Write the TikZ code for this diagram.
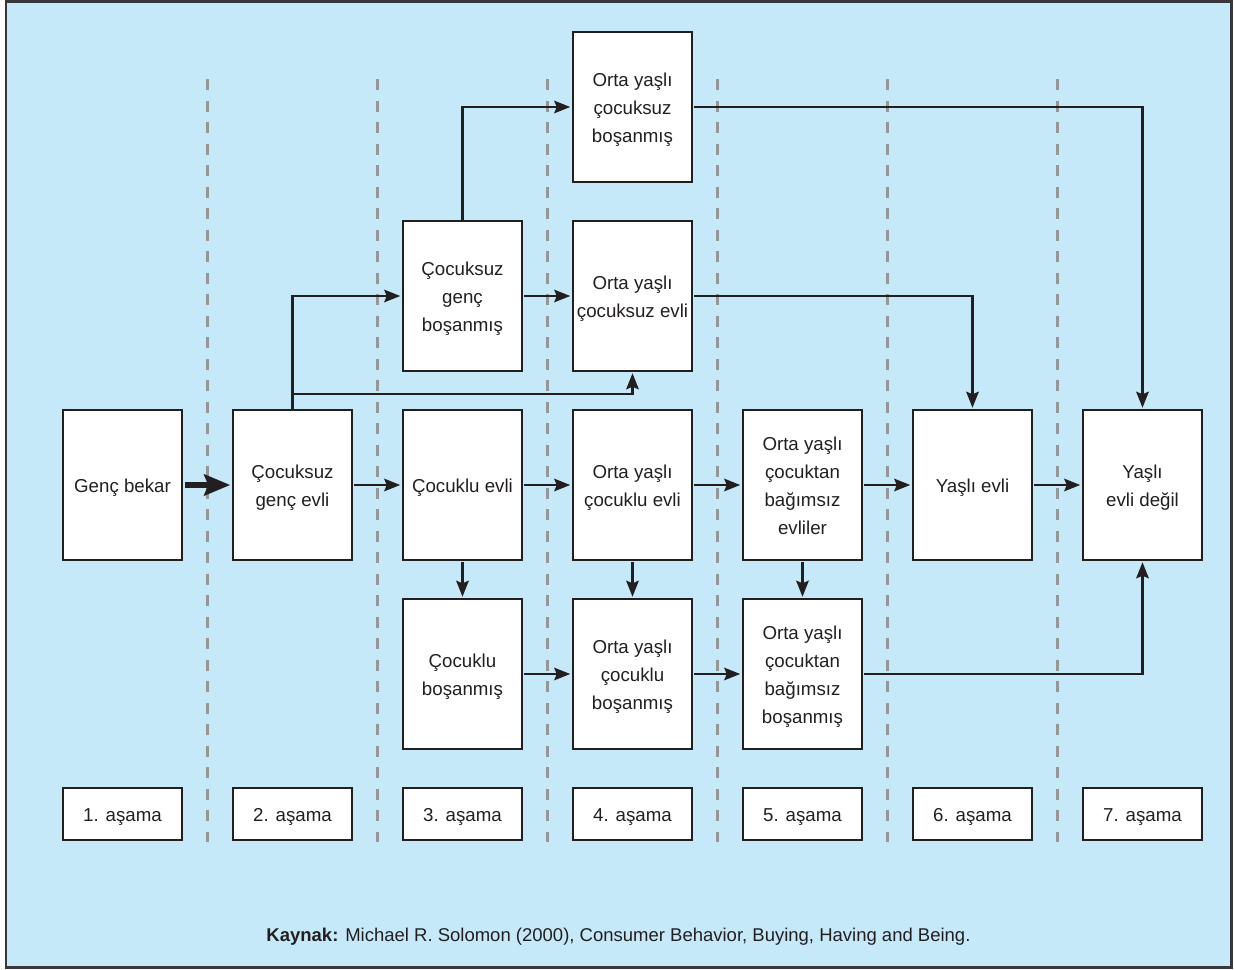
\documentclass[tikz,border=0pt]{standalone}
\usepackage{fontspec}
\setmainfont{Liberation Sans}
\usetikzlibrary{arrows.meta}
\definecolor{bgblue}{RGB}{198,233,249}
\definecolor{ink}{RGB}{35,31,32}
\definecolor{frameg}{RGB}{55,55,60}
\definecolor{dashgray}{RGB}{150,150,150}
\newcommand{\btext}[1]{\begin{tabular}{@{}c@{}}\rule{0pt}{22.4pt}#1\end{tabular}}
\begin{document}
\begin{tikzpicture}[x=1pt,y=-1pt,
  box/.style={text=ink, font=\fontsize{18.7}{28}\selectfont, draw=ink, line width=2pt, fill=white, minimum width=119.5pt, minimum height=149.5pt, inner sep=0pt},
  stagebox/.style={text=ink, font=\fontsize{18.7}{28}\selectfont, draw=ink, line width=2pt, fill=white, minimum width=119.5pt, minimum height=51.5pt, inner sep=0pt},
  conn/.style={draw=ink, line width=2.5pt, shorten >=1.5pt, shorten <=1pt, -{Stealth[length=16pt,width=12.5pt,inset=2.5pt]}},
  thickconn/.style={draw=ink, line width=6pt, shorten >=1.5pt, shorten <=1.5pt, -{Stealth[length=26pt,width=21pt,inset=4pt]}},
  stageline/.style={draw=dashgray, line width=2.7pt, dash pattern=on 11pt off 10.5pt},
  srctext/.style={font=\fontsize{18.5}{22}\selectfont, text=ink, inner sep=0pt, anchor=base}
]
\useasboundingbox (0,0) rectangle (1234,969);
\fill[white] (0,0) rectangle (1234,969);
\draw[draw=frameg, line width=2.5pt, fill=bgblue] (6,1.5) rectangle (1231.5,967.5);

% stage separators
\foreach \x in {207.5,377.5,547.5,717.5,887.5,1057.5}
  \draw[stageline] (\x,79) -- (\x,842);

% main row
\node[box] (gb)    at (122.5,485) {\btext{Genç bekar}};
\node[box] (cge)   at (292.5,485) {\btext{Çocuksuz\\genç evli}};
\node[box] (ce)    at (462.5,485) {\btext{Çocuklu evli}};
\node[box] (oyce)  at (632.5,485) {\btext{Orta yaşlı\\çocuklu evli}};
\node[box] (oycbe) at (802.5,485) {\btext{Orta yaşlı\\çocuktan\\bağımsız\\evliler}};
\node[box] (ye)    at (972.5,485) {\btext{Yaşlı evli}};
\node[box] (yed)   at (1142.5,485) {\btext{Yaşlı\\evli değil}};
% upper rows
\node[box] (cgb)   at (462.5,296) {\btext{Çocuksuz\\genç\\boşanmış}};
\node[box] (oycze) at (632.5,296) {\btext{Orta yaşlı\\çocuksuz evli}};
\node[box] (oyczb) at (632.5,107) {\btext{Orta yaşlı\\çocuksuz\\boşanmış}};
% bottom row
\node[box] (cb)    at (462.5,674) {\btext{Çocuklu\\boşanmış}};
\node[box] (oycb)  at (632.5,674) {\btext{Orta yaşlı\\çocuklu\\boşanmış}};
\node[box] (oycbb) at (802.5,674) {\btext{Orta yaşlı\\çocuktan\\bağımsız\\boşanmış}};

% stage labels
\node[stagebox] (s1) at (122.5,814) {\btext{1. aşama}};
\node[stagebox] (s2) at (292.5,814) {\btext{2. aşama}};
\node[stagebox] (s3) at (462.5,814) {\btext{3. aşama}};
\node[stagebox] (s4) at (632.5,814) {\btext{4. aşama}};
\node[stagebox] (s5) at (802.5,814) {\btext{5. aşama}};
\node[stagebox] (s6) at (972.5,814) {\btext{6. aşama}};
\node[stagebox] (s7) at (1142.5,814) {\btext{7. aşama}};

% connectors
\draw[thickconn] (gb.east) -- (cge.west);
\draw[conn] (cge.east) -- (ce.west);
\draw[conn] (ce.east) -- (oyce.west);
\draw[conn] (oyce.east) -- (oycbe.west);
\draw[conn] (oycbe.east) -- (ye.west);
\draw[conn] (ye.east) -- (yed.west);

\draw[conn, shorten <=0pt] (cge.north) -- (cge.north |- cgb.west) -- (cgb.west);
\coordinate (split) at (292.5,394);
\draw[conn] (split) -- (split -| oycze.south) -- (oycze.south);
\draw[conn, shorten <=0pt] (cgb.north) -- (cgb.north |- oyczb.west) -- (oyczb.west);
\draw[conn] (cgb.east) -- (oycze.west);
\draw[conn] (oyczb.east) -- (oyczb.east -| yed.north) -- (yed.north);
\draw[conn] (oycze.east) -- (oycze.east -| ye.north) -- (ye.north);

\draw[conn] (ce.south) -- (cb.north);
\draw[conn] (oyce.south) -- (oycb.north);
\draw[conn] (oycbe.south) -- (oycbb.north);

\draw[conn] (cb.east) -- (oycb.west);
\draw[conn] (oycb.east) -- (oycbb.west);
\draw[conn] (oycbb.east) -- (oycbb.east -| yed.south) -- (yed.south);

\node[srctext] (src) at (618.5,941) {\textbf{Kaynak:} Michael R. Solomon (2000), Consumer Behavior, Buying, Having and Being.};
\end{tikzpicture}
\end{document}
